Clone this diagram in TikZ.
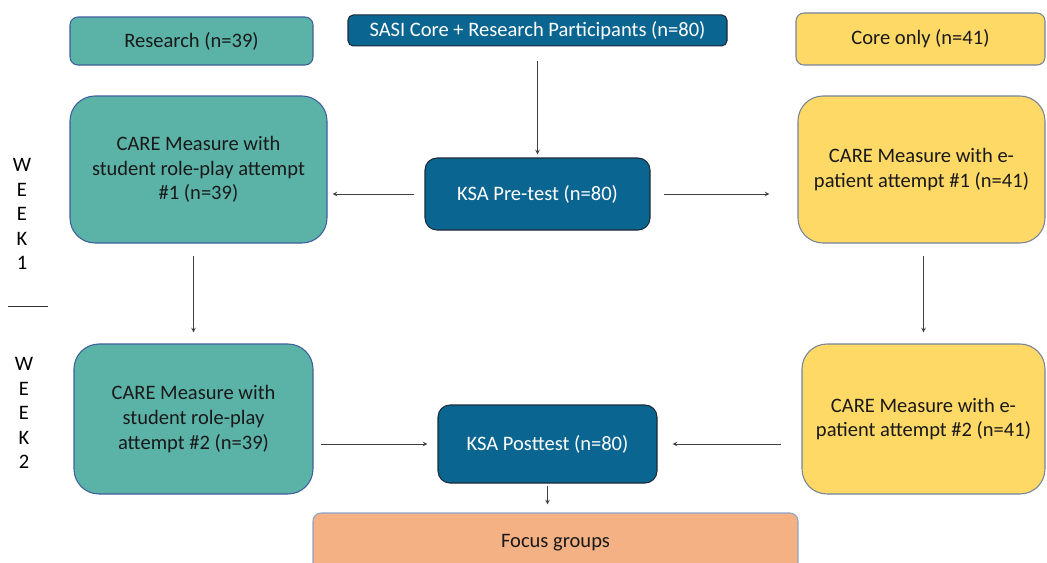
\documentclass[tikz,border=0pt]{standalone}
\usepackage{fontspec}
\setmainfont{Carlito}
\usepackage{xcolor}
\usepackage{tikz}
\usetikzlibrary{shapes,arrows,positioning,calc}

\definecolor{tealbox}{HTML}{5BB3A8}
\definecolor{tealline}{HTML}{3E5E9C}
\definecolor{bluebox}{HTML}{0B6591}
\definecolor{blueline}{HTML}{1C2B38}
\definecolor{yellowbox}{HTML}{FFD966}
\definecolor{yellowline}{HTML}{76839B}
\definecolor{orangebox}{HTML}{F4B183}
\definecolor{orangeline}{HTML}{8EA3C8}

\begin{document}
\begin{tikzpicture}[
    x=0.75pt, y=-0.75pt,
    font=\fontsize{15.4pt}{18.4pt}\selectfont,
    research/.style={rectangle, rounded corners=6pt, draw=tealline, line width=0.8pt, fill=tealbox, align=center, inner sep=0pt, text=black!90},
    core/.style={rectangle, rounded corners=6pt, draw=yellowline, line width=0.8pt, fill=yellowbox, align=center, inner sep=0pt, text=black!90},
    ksa/.style={rectangle, rounded corners=9pt, draw=blueline, line width=0.8pt, fill=bluebox, align=center, inner sep=0pt, text=white},
    focus/.style={rectangle, rounded corners=6pt, draw=orangeline, line width=0.8pt, fill=orangebox, align=center, inner sep=0pt, text=black!90},
    arrow/.style={->, >=stealth, line width=0.6pt, draw=black!75},
]
\useasboundingbox (0,0) rectangle (1047,562);

% Top row: participant groups
\node[ksa, minimum width=168.75pt, minimum height=54pt] (pre) at (537.5,194) {KSA Pre-test (n=80)};
\node[ksa, rounded corners=4pt, minimum width=284.25pt, minimum height=23.25pt, above=83.25pt of pre] (sasi) {SASI Core + Research Participants (n=80)};
\node[research, minimum width=182.25pt, minimum height=36pt] (research) at (191.5,41) {Research (n=39)};
\node[core, minimum width=186.75pt, minimum height=39pt] (coreonly) at (920.5,39) {Core only (n=41)};

% Week 1
\node[research, rounded corners=18.75pt, minimum width=192.75pt, minimum height=110.25pt] (care1L) at (198.5,169.5) {CARE Measure with\\student role-play attempt\\\#1 (n=39)};
\node[core, rounded corners=18.75pt, minimum width=185.25pt, minimum height=110.25pt] (care1R) at (921.5,169.5) {CARE Measure with e-\\patient attempt \#1 (n=41)};

% Week 2
\node[research, rounded corners=18.75pt, minimum width=179.25pt, minimum height=112.5pt] (care2L) at (193.5,419) {CARE Measure with\\student role-play\\attempt \#2 (n=39)};
\node[core, rounded corners=18.75pt, minimum width=182.25pt, minimum height=112.5pt] (care2R) at (923.5,419) {CARE Measure with e-\\patient attempt \#2 (n=41)};
\node[ksa, minimum width=164.25pt, minimum height=58.5pt] (post) at (547.5,444) {KSA Posttest (n=80)};

% Output
\node[focus, minimum width=363.75pt, minimum height=45pt] (groups) at (555.5,543) {Focus groups};

% Week labels
\node[align=center, inner sep=0pt, text=black] (week1) at (22,214) {W\\E\\E\\K\\1};
\node[align=center, inner sep=0pt, text=black] (week2) at (24,413) {W\\E\\E\\K\\2};
\draw[line width=0.6pt, black!80] (8,306) -- (48,306);

% Arrows
\draw[arrow, shorten <=11.25pt, shorten >=2.25pt] (sasi) -- (pre);
\draw[arrow, shorten <=7.5pt, shorten >=3.75pt] (pre.west) -- (care1L.east |- pre.west);
\draw[arrow, shorten <=9.75pt, shorten >=21pt] (pre.east) -- (care1R.west |- pre.east);
\draw[arrow, shorten <=9pt, shorten >=8.25pt] (care1L.south -| care2L.north) -- (care2L.north);
\draw[arrow, shorten <=9pt, shorten >=8.25pt] (care1R.south -| care2R.north) -- (care2R.north);
\draw[arrow, shorten <=5.25pt, shorten >=7.5pt] (care2L.east |- post) -- (post.west);
\draw[arrow, shorten <=15pt, shorten >=11.25pt] (care2R.west |- post) -- (post.east);
\draw[arrow, shorten <=1.5pt, shorten >=6pt] (post.south) -- (post.south |- groups.north);

\end{tikzpicture}
\end{document}
